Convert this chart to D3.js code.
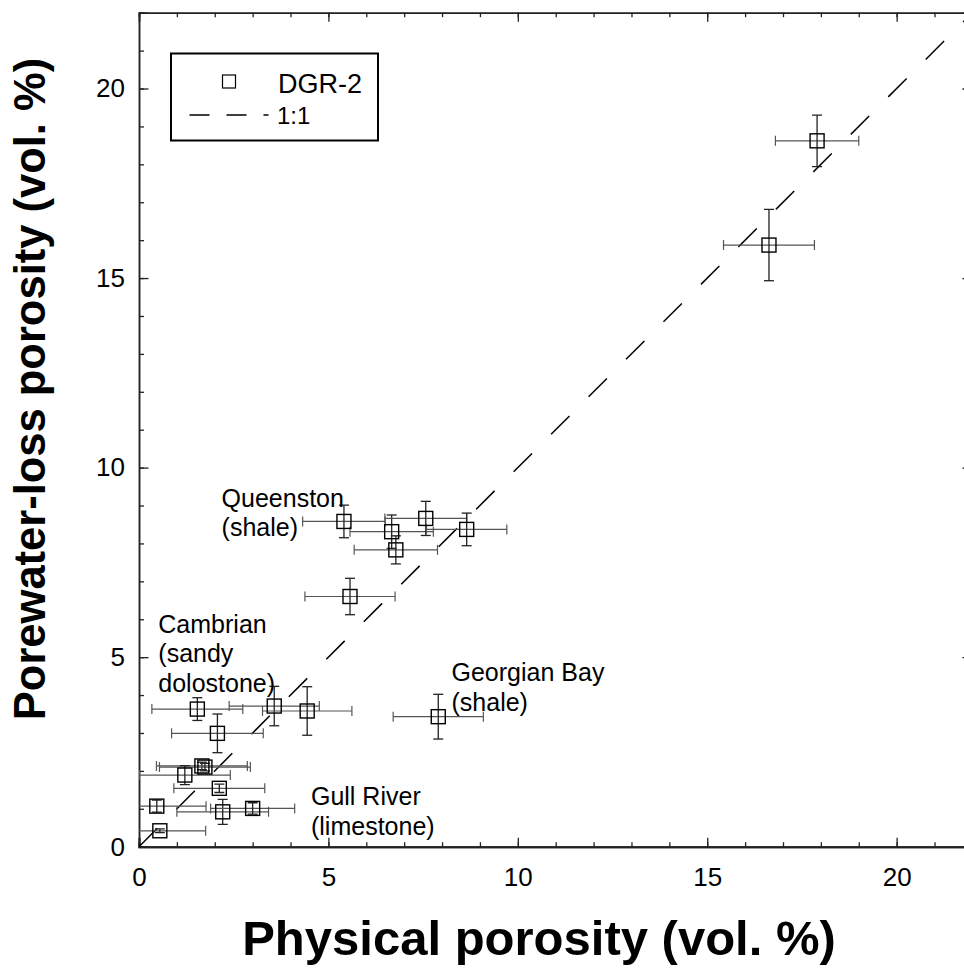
<!DOCTYPE html>
<html>
<head>
<meta charset="utf-8">
<script src="https://cdn.jsdelivr.net/npm/d3@7"></script>
<style>
  html, body { margin: 0; padding: 0; background: #fff; }
  svg { display: block; font-family: "Liberation Sans", Arial, sans-serif; }
</style>
</head>
<body>
<svg id="chart" width="964" height="968"></svg>
<script>
// Physical porosity vs. porewater-loss porosity, DGR-2 core samples (vol. %)
const physical  = [17.9, 16.63, 5.41, 6.67, 7.57, 8.65, 6.78, 5.57, 7.9, 1.54, 3.57, 4.44, 2.07, 1.66, 1.74, 1.21, 2.12, 0.47, 2.21, 3.0, 0.55];
const porewater = [18.62, 15.87, 8.58, 8.31, 8.66, 8.37, 7.83, 6.6, 3.43, 3.63, 3.71, 3.58, 2.99, 2.13, 2.10, 1.89, 1.54, 1.07, 0.92, 1.01, 0.42];
const physErr   = [1.1, 1.2, 1.09, 1.1, 1.08, 1.06, 1.1, 1.19, 1.19, 1.2, 1.19, 1.18, 1.21, 1.2, 1.2, 1.2, 1.2, 1.3, 1.21, 1.11, 1.21];
const poreErr   = [0.68, 0.94, 0.43, 0.44, 0.45, 0.43, 0.37, 0.48, 0.59, 0.3, 0.52, 0.64, 0.51, 0.1, 0.1, 0.25, 0.11, 0.16, 0.33, 0.15, 0.05];

const majorTicks = [0, 5, 10, 15, 20];
const minorTicks = d3.range(0, 23, 1);

// Formation labels: [lines, x value, y value of first baseline]
const formationLabels = [
  { lines: ["Queenston", "(shale)"], x: 2.18, y: 8.97 },
  { lines: ["Cambrian", "(sandy", "dolostone)"], x: 0.51, y: 5.65 },
  { lines: ["Georgian Bay", "(shale)"], x: 8.25, y: 4.36 },
  { lines: ["Gull River", "(limestone)"], x: 4.54, y: 1.09 }
];

const margin = { left: 139, top: 12.7 };
const plotW = 833.4, plotH = 834;

const svg = d3.select("#chart");
const g = svg.append("g").attr("transform", `translate(${margin.left},${margin.top})`);

const x = d3.scaleLinear().domain([0, 22]).range([0, plotW]);
const y = d3.scaleLinear().domain([0, 22]).range([plotH, 0]);

g.append("clipPath").attr("id", "plotClip")
  .append("rect").attr("x", 0).attr("y", 0).attr("width", plotW).attr("height", plotH);

// Axes: minor ticks every 1 %, major every 5 %, all pointing inward
function styleAxis(sel, w) {
  sel.select(".domain").attr("stroke", "#222").attr("stroke-width", w);
  sel.selectAll(".tick line").attr("stroke", "#222").attr("stroke-width", 1.3);
}

const xMinor = g.append("g").attr("transform", `translate(0,${plotH})`)
  .call(d3.axisBottom(x).tickValues(minorTicks).tickSize(-4.5).tickFormat(""));
styleAxis(xMinor, 2);
const xMajor = g.append("g").attr("transform", `translate(0,${plotH})`)
  .call(d3.axisBottom(x).tickValues(majorTicks).tickSize(-9).tickPadding(21).tickFormat(d3.format("d")));
styleAxis(xMajor, 2);

const xTopMinor = g.append("g")
  .call(d3.axisTop(x).tickValues(minorTicks).tickSize(-4.5).tickFormat(""));
styleAxis(xTopMinor, 1.5);
const xTopMajor = g.append("g")
  .call(d3.axisTop(x).tickValues(majorTicks).tickSize(-9).tickFormat(""));
styleAxis(xTopMajor, 1.5);

const yMinor = g.append("g")
  .call(d3.axisLeft(y).tickValues(minorTicks).tickSize(-5).tickFormat(""));
styleAxis(yMinor, 1.5);
const yMajor = g.append("g")
  .call(d3.axisLeft(y).tickValues(majorTicks).tickSize(-9.5).tickPadding(14).tickFormat(d3.format("d")));
styleAxis(yMajor, 1.5);

const yRight = g.append("g").attr("transform", `translate(${plotW},0)`)
  .call(d3.axisRight(y).tickValues(majorTicks).tickSize(-10).tickFormat(""));
styleAxis(yRight, 1.5);

g.selectAll(".tick text")
  .attr("font-family", "'Liberation Sans', Arial, sans-serif")
  .attr("font-size", 26)
  .attr("fill", "#000");

// 1:1 reference line
const plot = g.append("g").attr("clip-path", "url(#plotClip)");
plot.append("line")
  .attr("x1", x(0)).attr("y1", y(0)).attr("x2", x(22)).attr("y2", y(22))
  .attr("stroke", "#000").attr("stroke-width", 1.5)
  .attr("stroke-dasharray", "26,27");

// Error bars
const pts = physical.map((v, i) => ({ x: v, y: porewater[i], ex: physErr[i], ey: poreErr[i] }));
const cap = 5;

const eb = plot.append("g");
pts.forEach(p => {
  const cx = x(p.x), cy = y(p.y);
  const xl = x(p.x - p.ex), xr = x(p.x + p.ex);
  eb.append("line").attr("x1", xl).attr("x2", xr).attr("y1", cy).attr("y2", cy)
    .attr("stroke", "#555").attr("stroke-width", 1.2);
  [xl, xr].forEach(xx => eb.append("line")
    .attr("x1", xx).attr("x2", xx).attr("y1", cy - cap).attr("y2", cy + cap)
    .attr("stroke", "#555").attr("stroke-width", 1.2));
  const yt = y(p.y + p.ey), yb = y(p.y - p.ey);
  eb.append("line").attr("x1", cx).attr("x2", cx).attr("y1", yt).attr("y2", yb)
    .attr("stroke", "#222").attr("stroke-width", 1.3);
  [yt, yb].forEach(yy => eb.append("line")
    .attr("x1", cx - cap).attr("x2", cx + cap).attr("y1", yy).attr("y2", yy)
    .attr("stroke", "#222").attr("stroke-width", 1.3));
});

// Sample markers: open squares
const sq = 14;
g.append("g").selectAll("rect").data(pts).join("rect")
  .attr("x", d => x(d.x) - sq / 2).attr("y", d => y(d.y) - sq / 2)
  .attr("width", sq).attr("height", sq)
  .attr("fill", "none").attr("stroke", "#000").attr("stroke-width", 1.4);

// Formation annotations
formationLabels.forEach(lab => {
  const t = g.append("text")
    .attr("x", x(lab.x)).attr("y", y(lab.y))
    .attr("font-size", 25).attr("fill", "#000");
  lab.lines.forEach((ln, i) => t.append("tspan")
    .attr("x", x(lab.x)).attr("dy", i === 0 ? 0 : 29.5).text(ln));
});

// Legend
const leg = svg.append("g");
leg.append("rect").attr("x", 171).attr("y", 53.5).attr("width", 207).attr("height", 87)
  .attr("fill", "#fff").attr("stroke", "#000").attr("stroke-width", 2);
leg.append("rect").attr("x", 222.5).attr("y", 75).attr("width", 13).attr("height", 13)
  .attr("fill", "none").attr("stroke", "#000").attr("stroke-width", 1.2);
leg.append("text").attr("x", 278).attr("y", 93).attr("font-size", 27).text("DGR-2");
leg.append("line").attr("x1", 189.5).attr("x2", 268.5).attr("y1", 115).attr("y2", 115)
  .attr("stroke", "#000").attr("stroke-width", 1.3).attr("stroke-dasharray", "20,17");
leg.append("text").attr("x", 277).attr("y", 123.5).attr("font-size", 24).text("1:1");

// Axis titles
svg.append("text")
  .attr("x", 539).attr("y", 955)
  .attr("text-anchor", "middle")
  .attr("font-size", 49).attr("font-weight", "bold")
  .text("Physical porosity (vol. %)");

svg.append("text")
  .attr("transform", "translate(45,389) rotate(-90)")
  .attr("text-anchor", "middle")
  .attr("font-size", 43.5).attr("font-weight", "bold")
  .text("Porewater-loss porosity (vol. %)");
</script>
</body>
</html>
